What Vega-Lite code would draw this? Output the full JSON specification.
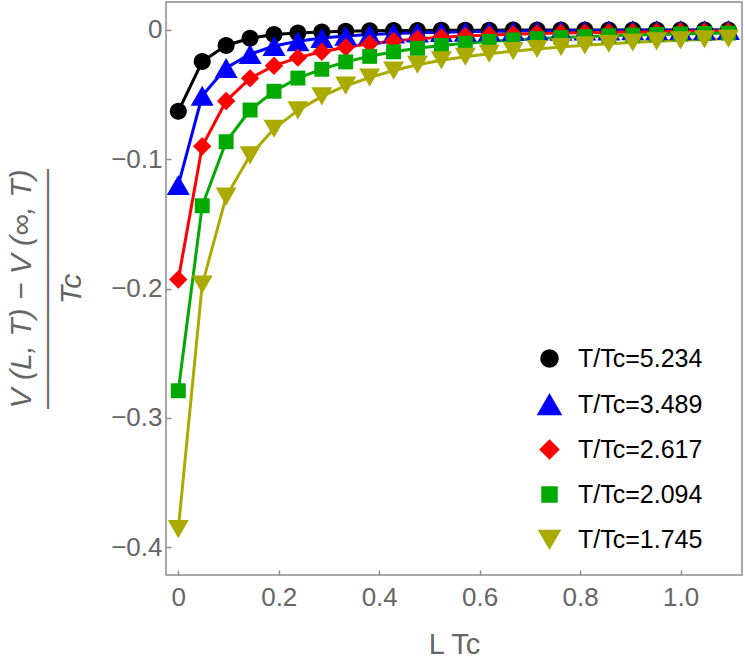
{
  "$schema": "https://vega.github.io/schema/vega-lite/v6.json",
  "autosize": "none",
  "width": 576,
  "height": 573,
  "padding": {"left": 166, "top": 2, "right": 3, "bottom": 89},
  "config": {
    "view": {"stroke": "#8c8c8c", "strokeWidth": 1.5},
    "font": "Liberation Sans",
    "axis": {"grid": false, "domain": false, "tickColor": "#8c8c8c", "tickWidth": 1.5, "labelColor": "#666666", "titleColor": "#666666", "labelFont": "Liberation Sans", "titleFont": "Liberation Sans", "titleFontWeight": "normal"}
  },
  "datasets": {
    "pts": [
      {"s": "T/Tc=5.234", "x": 0, "y": -0.063},
      {"s": "T/Tc=5.234", "x": 0.0476, "y": -0.0245},
      {"s": "T/Tc=5.234", "x": 0.0952, "y": -0.0121},
      {"s": "T/Tc=5.234", "x": 0.1429, "y": -0.0065},
      {"s": "T/Tc=5.234", "x": 0.1905, "y": -0.0037},
      {"s": "T/Tc=5.234", "x": 0.2381, "y": -0.0024},
      {"s": "T/Tc=5.234", "x": 0.2857, "y": -0.0016},
      {"s": "T/Tc=5.234", "x": 0.3333, "y": -0.0011},
      {"s": "T/Tc=5.234", "x": 0.381, "y": -0.0008},
      {"s": "T/Tc=5.234", "x": 0.4286, "y": -0.0006},
      {"s": "T/Tc=5.234", "x": 0.4762, "y": -0.0005},
      {"s": "T/Tc=5.234", "x": 0.5238, "y": -0.0004},
      {"s": "T/Tc=5.234", "x": 0.5714, "y": -0.0003},
      {"s": "T/Tc=5.234", "x": 0.619, "y": -0.0003},
      {"s": "T/Tc=5.234", "x": 0.6667, "y": -0.0002},
      {"s": "T/Tc=5.234", "x": 0.7143, "y": -0.0002},
      {"s": "T/Tc=5.234", "x": 0.7619, "y": -0.0002},
      {"s": "T/Tc=5.234", "x": 0.8095, "y": -0.0001},
      {"s": "T/Tc=5.234", "x": 0.8571, "y": -0.0001},
      {"s": "T/Tc=5.234", "x": 0.9048, "y": -0.0001},
      {"s": "T/Tc=5.234", "x": 0.9524, "y": -0.0001},
      {"s": "T/Tc=5.234", "x": 1.0, "y": -0.0001},
      {"s": "T/Tc=5.234", "x": 1.0476, "y": -0.0001},
      {"s": "T/Tc=5.234", "x": 1.0952, "y": -0.0001},
      {"s": "T/Tc=3.489", "x": 0, "y": -0.12},
      {"s": "T/Tc=3.489", "x": 0.0476, "y": -0.051},
      {"s": "T/Tc=3.489", "x": 0.0952, "y": -0.0295},
      {"s": "T/Tc=3.489", "x": 0.1429, "y": -0.0188},
      {"s": "T/Tc=3.489", "x": 0.1905, "y": -0.0125},
      {"s": "T/Tc=3.489", "x": 0.2381, "y": -0.0088},
      {"s": "T/Tc=3.489", "x": 0.2857, "y": -0.0063},
      {"s": "T/Tc=3.489", "x": 0.3333, "y": -0.0047},
      {"s": "T/Tc=3.489", "x": 0.381, "y": -0.0036},
      {"s": "T/Tc=3.489", "x": 0.4286, "y": -0.0028},
      {"s": "T/Tc=3.489", "x": 0.4762, "y": -0.0022},
      {"s": "T/Tc=3.489", "x": 0.5238, "y": -0.0018},
      {"s": "T/Tc=3.489", "x": 0.5714, "y": -0.0015},
      {"s": "T/Tc=3.489", "x": 0.619, "y": -0.0012},
      {"s": "T/Tc=3.489", "x": 0.6667, "y": -0.001},
      {"s": "T/Tc=3.489", "x": 0.7143, "y": -0.0008},
      {"s": "T/Tc=3.489", "x": 0.7619, "y": -0.0007},
      {"s": "T/Tc=3.489", "x": 0.8095, "y": -0.0006},
      {"s": "T/Tc=3.489", "x": 0.8571, "y": -0.0005},
      {"s": "T/Tc=3.489", "x": 0.9048, "y": -0.0004},
      {"s": "T/Tc=3.489", "x": 0.9524, "y": -0.0004},
      {"s": "T/Tc=3.489", "x": 1.0, "y": -0.0003},
      {"s": "T/Tc=3.489", "x": 1.0476, "y": -0.0003},
      {"s": "T/Tc=3.489", "x": 1.0952, "y": -0.0002},
      {"s": "T/Tc=2.617", "x": 0, "y": -0.193},
      {"s": "T/Tc=2.617", "x": 0.0476, "y": -0.09},
      {"s": "T/Tc=2.617", "x": 0.0952, "y": -0.055},
      {"s": "T/Tc=2.617", "x": 0.1429, "y": -0.0375},
      {"s": "T/Tc=2.617", "x": 0.1905, "y": -0.0278},
      {"s": "T/Tc=2.617", "x": 0.2381, "y": -0.0215},
      {"s": "T/Tc=2.617", "x": 0.2857, "y": -0.017},
      {"s": "T/Tc=2.617", "x": 0.3333, "y": -0.0135},
      {"s": "T/Tc=2.617", "x": 0.381, "y": -0.0107},
      {"s": "T/Tc=2.617", "x": 0.4286, "y": -0.0086},
      {"s": "T/Tc=2.617", "x": 0.4762, "y": -0.007},
      {"s": "T/Tc=2.617", "x": 0.5238, "y": -0.0058},
      {"s": "T/Tc=2.617", "x": 0.5714, "y": -0.0048},
      {"s": "T/Tc=2.617", "x": 0.619, "y": -0.004},
      {"s": "T/Tc=2.617", "x": 0.6667, "y": -0.0034},
      {"s": "T/Tc=2.617", "x": 0.7143, "y": -0.0029},
      {"s": "T/Tc=2.617", "x": 0.7619, "y": -0.0025},
      {"s": "T/Tc=2.617", "x": 0.8095, "y": -0.0022},
      {"s": "T/Tc=2.617", "x": 0.8571, "y": -0.0019},
      {"s": "T/Tc=2.617", "x": 0.9048, "y": -0.0017},
      {"s": "T/Tc=2.617", "x": 0.9524, "y": -0.0015},
      {"s": "T/Tc=2.617", "x": 1.0, "y": -0.0013},
      {"s": "T/Tc=2.617", "x": 1.0476, "y": -0.0012},
      {"s": "T/Tc=2.617", "x": 1.0952, "y": -0.001},
      {"s": "T/Tc=2.094", "x": 0, "y": -0.279},
      {"s": "T/Tc=2.094", "x": 0.0476, "y": -0.136},
      {"s": "T/Tc=2.094", "x": 0.0952, "y": -0.0865},
      {"s": "T/Tc=2.094", "x": 0.1429, "y": -0.062},
      {"s": "T/Tc=2.094", "x": 0.1905, "y": -0.0475},
      {"s": "T/Tc=2.094", "x": 0.2381, "y": -0.0373},
      {"s": "T/Tc=2.094", "x": 0.2857, "y": -0.0305},
      {"s": "T/Tc=2.094", "x": 0.3333, "y": -0.0248},
      {"s": "T/Tc=2.094", "x": 0.381, "y": -0.0205},
      {"s": "T/Tc=2.094", "x": 0.4286, "y": -0.017},
      {"s": "T/Tc=2.094", "x": 0.4762, "y": -0.0143},
      {"s": "T/Tc=2.094", "x": 0.5238, "y": -0.0121},
      {"s": "T/Tc=2.094", "x": 0.5714, "y": -0.0104},
      {"s": "T/Tc=2.094", "x": 0.619, "y": -0.009},
      {"s": "T/Tc=2.094", "x": 0.6667, "y": -0.0078},
      {"s": "T/Tc=2.094", "x": 0.7143, "y": -0.0068},
      {"s": "T/Tc=2.094", "x": 0.7619, "y": -0.006},
      {"s": "T/Tc=2.094", "x": 0.8095, "y": -0.0053},
      {"s": "T/Tc=2.094", "x": 0.8571, "y": -0.0046},
      {"s": "T/Tc=2.094", "x": 0.9048, "y": -0.0041},
      {"s": "T/Tc=2.094", "x": 0.9524, "y": -0.0036},
      {"s": "T/Tc=2.094", "x": 1.0, "y": -0.0032},
      {"s": "T/Tc=2.094", "x": 1.0476, "y": -0.0028},
      {"s": "T/Tc=2.094", "x": 1.0952, "y": -0.0025},
      {"s": "T/Tc=1.745", "x": 0, "y": -0.386},
      {"s": "T/Tc=1.745", "x": 0.0476, "y": -0.197},
      {"s": "T/Tc=1.745", "x": 0.0952, "y": -0.129},
      {"s": "T/Tc=1.745", "x": 0.1429, "y": -0.097},
      {"s": "T/Tc=1.745", "x": 0.1905, "y": -0.0765},
      {"s": "T/Tc=1.745", "x": 0.2381, "y": -0.0623},
      {"s": "T/Tc=1.745", "x": 0.2857, "y": -0.0515},
      {"s": "T/Tc=1.745", "x": 0.3333, "y": -0.0432},
      {"s": "T/Tc=1.745", "x": 0.381, "y": -0.037},
      {"s": "T/Tc=1.745", "x": 0.4286, "y": -0.0315},
      {"s": "T/Tc=1.745", "x": 0.4762, "y": -0.027},
      {"s": "T/Tc=1.745", "x": 0.5238, "y": -0.0235},
      {"s": "T/Tc=1.745", "x": 0.5714, "y": -0.0208},
      {"s": "T/Tc=1.745", "x": 0.619, "y": -0.0185},
      {"s": "T/Tc=1.745", "x": 0.6667, "y": -0.0165},
      {"s": "T/Tc=1.745", "x": 0.7143, "y": -0.0148},
      {"s": "T/Tc=1.745", "x": 0.7619, "y": -0.0133},
      {"s": "T/Tc=1.745", "x": 0.8095, "y": -0.012},
      {"s": "T/Tc=1.745", "x": 0.8571, "y": -0.0108},
      {"s": "T/Tc=1.745", "x": 0.9048, "y": -0.0098},
      {"s": "T/Tc=1.745", "x": 0.9524, "y": -0.0089},
      {"s": "T/Tc=1.745", "x": 1.0, "y": -0.0081},
      {"s": "T/Tc=1.745", "x": 1.0476, "y": -0.0074},
      {"s": "T/Tc=1.745", "x": 1.0952, "y": -0.0068}
    ]
  },
  "data": {"name": "pts"},
  "encoding": {
    "x": {
      "field": "x", "type": "quantitative",
      "scale": {"domain": [-0.0245, 1.1223], "nice": false, "zero": false},
      "axis": {"values": [0, 0.2, 0.4, 0.6, 0.8, 1.0], "labelExpr": "datum.value == 0 ? '0' : format(datum.value, '.1f')", "labelFontSize": 26, "tickSize": -5, "labelPadding": 14, "title": "L Tc", "titleFontSize": 29, "titlePadding": 20}
    },
    "y": {
      "field": "y", "type": "quantitative",
      "scale": {"domain": [-0.4214, 0.0215], "nice": false, "zero": false},
      "axis": {"values": [0, -0.1, -0.2, -0.3, -0.4], "labelExpr": "datum.value == 0 ? '0' : format(datum.value, '.1f')", "labelFontSize": 26, "tickSize": -5, "labelPadding": 9, "title": ["V (L, T) − V (∞, T)", "————————", "Tc"], "titleFontSize": 30, "titleFontStyle": "italic", "titleLineHeight": 25, "titlePadding": 24}
    },
    "color": {
      "field": "s", "type": "nominal",
      "scale": {"domain": ["T/Tc=5.234", "T/Tc=3.489", "T/Tc=2.617", "T/Tc=2.094", "T/Tc=1.745"], "range": ["#000000", "#0000ff", "#ff0000", "#00aa00", "#aaaa00"]},
      "legend": {"orient": "none", "legendX": 371, "legendY": 344, "title": null, "labelFontSize": 25, "labelColor": "#000000", "labelFont": "Liberation Sans", "rowPadding": 19, "labelOffset": 16, "symbolSize": 529}
    }
  },
  "layer": [
    {"mark": {"type": "line", "strokeWidth": 3}, "encoding": {"detail": {"field": "s"}}},
    {
      "mark": {"type": "point", "filled": true, "opacity": 1, "size": 529},
      "encoding": {
        "shape": {"field": "s", "type": "nominal", "scale": {"domain": ["T/Tc=5.234", "T/Tc=3.489", "T/Tc=2.617", "T/Tc=2.094", "T/Tc=1.745"], "range": [
          "M -0.74 0 A 0.74 0.74 0 1 0 0.74 0 A 0.74 0.74 0 1 0 -0.74 0 Z",
          "M 0 -0.866 L 1 0.866 L -1 0.866 Z",
          "M 0 -0.8 L 0.8 0 L 0 0.8 L -0.8 0 Z",
          "M -0.65 -0.65 L 0.65 -0.65 L 0.65 0.65 L -0.65 0.65 Z",
          "M -0.91 -0.79 L 0.91 -0.79 L 0 0.79 Z"
        ]}}
      }
    }
  ]
}
